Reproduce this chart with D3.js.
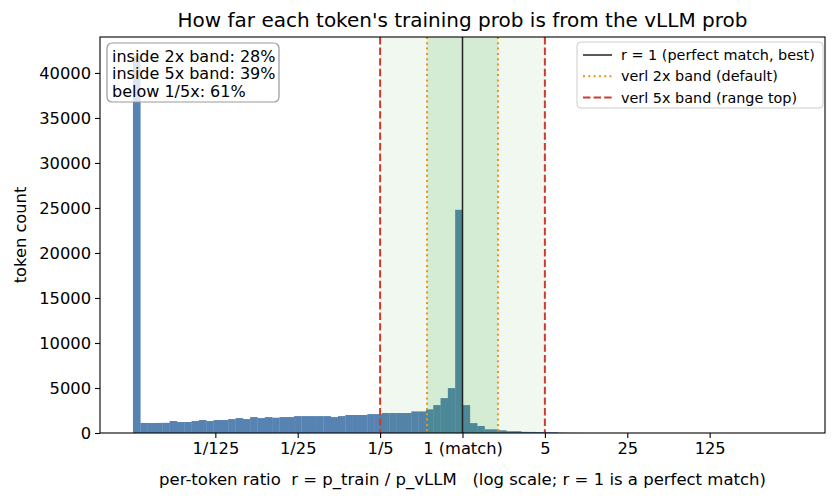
<!DOCTYPE html>
<html>
<head>
<meta charset="utf-8">
<script src="https://cdn.jsdelivr.net/npm/d3@7"></script>
<style>
  body { margin: 0; background: #fff; }
  svg { font-family: "DejaVu Sans", sans-serif; }
</style>
</head>
<body>
<svg id="chart" width="838" height="500"></svg>
<script>
// Step 1 — Data
// 90 equal-width log bins from 1/625 to 625 (ratio clipped to that range)
const binLo = 1 / 625;
const binHi = 625;
const binCounts = [
  41900, 1120, 1110, 1120, 1130, 1330, 1220, 1220, 1330, 1440,
  1330, 1440, 1440, 1550, 1660, 1550, 1770, 1660, 1770, 1700,
  1770, 1770, 1880, 1880, 1880, 1880, 1880, 1770, 1880, 2000,
  2000, 2000, 2100, 2100, 2220, 2220, 2220, 2220, 2400, 2400,
  2630, 3100, 3880, 4990, 24800, 3100, 1100, 780, 410, 410,
  300, 200, 200, 130, 120, 110, 100, 80, 30, 15,
  8, 4, 0, 0, 0, 0, 0, 0, 0, 0,
  0, 0, 0, 0, 0, 0, 0, 0, 0, 0,
  0, 0, 0, 0, 0, 0, 0, 0, 0, 0
];
const xTickValues = [1 / 125, 1 / 25, 1 / 5, 1, 5, 25, 125];
const xTickLabels = ["1/125", "1/25", "1/5", "1 (match)", "5", "25", "125"];
const yTickValues = [0, 5000, 10000, 15000, 20000, 25000, 30000, 35000, 40000];
const statLines = ["inside 2x band: 28%", "inside 5x band: 39%", "below 1/5x: 61%"];
const legendItems = [
  { label: "r = 1 (perfect match, best)", kind: "match" },
  { label: "verl 2x band (default)", kind: "band2" },
  { label: "verl 5x band (range top)", kind: "band5" }
];
const band2 = [1 / 2, 2];
const band5 = [1 / 5, 5];

// Step 2 — Dimensions and styles
const width = 838, height = 500;
const margin = { top: 37, right: 13, bottom: 67, left: 100 };
const innerWidth = width - margin.left - margin.right;
const innerHeight = height - margin.top - margin.bottom;
const barColor = "#5783b2";
const greenBand = "#2ca02c";
const redColor = "#d23a2c";
const orangeColor = "#e8951a";
const matchColor = "#222";
const tickFont = "16.3px";

const bins = binCounts.map((c, i) => ({
  x0: binLo * Math.pow(binHi / binLo, i / binCounts.length),
  x1: binLo * Math.pow(binHi / binLo, (i + 1) / binCounts.length),
  count: c
}));

// Step 3 — Scales (log axis with 5% padding like matplotlib)
const pad = Math.pow(binHi / binLo, 0.05);
const xScale = d3.scaleLog()
  .domain([binLo / pad, binHi * pad])
  .range([0, innerWidth]);
const yScale = d3.scaleLinear()
  .domain([0, d3.max(binCounts) * 1.05])
  .range([innerHeight, 0]);

const svg = d3.select("#chart");
const innerChart = svg.append("g")
  .attr("transform", `translate(${margin.left},${margin.top})`);

innerChart.append("clipPath").attr("id", "plot-clip")
  .append("rect").attr("width", innerWidth).attr("height", innerHeight);
const plot = innerChart.append("g").attr("clip-path", "url(#plot-clip)");

// Step 4 — Histogram bars
plot.selectAll("rect.bar")
  .data(bins.filter(d => d.count > 0))
  .join("rect")
    .attr("class", "bar")
    .attr("x", d => xScale(d.x0))
    .attr("width", d => xScale(d.x1) - xScale(d.x0) + 0.3)
    .attr("y", d => yScale(d.count))
    .attr("height", d => innerHeight - yScale(d.count))
    .attr("fill", barColor);

// Step 5 — Bands drawn on top (translucent green)
plot.append("rect")
  .attr("x", xScale(band5[0]))
  .attr("width", xScale(band5[1]) - xScale(band5[0]))
  .attr("y", 0).attr("height", innerHeight)
  .attr("fill", greenBand).attr("fill-opacity", 0.07);
plot.append("rect")
  .attr("x", xScale(band2[0]))
  .attr("width", xScale(band2[1]) - xScale(band2[0]))
  .attr("y", 0).attr("height", innerHeight)
  .attr("fill", greenBand).attr("fill-opacity", 0.14);

// Step 6 — Reference lines
band5.forEach(v => {
  plot.append("line")
    .attr("x1", xScale(v)).attr("x2", xScale(v))
    .attr("y1", 0).attr("y2", innerHeight)
    .attr("stroke", redColor).attr("stroke-width", 2)
    .attr("stroke-dasharray", "7.4,3.2");
});
band2.forEach(v => {
  plot.append("line")
    .attr("x1", xScale(v)).attr("x2", xScale(v))
    .attr("y1", 0).attr("y2", innerHeight)
    .attr("stroke", orangeColor).attr("stroke-width", 2)
    .attr("stroke-dasharray", "2,3.3");
});
plot.append("line")
  .attr("x1", xScale(1)).attr("x2", xScale(1))
  .attr("y1", 0).attr("y2", innerHeight)
  .attr("stroke", matchColor).attr("stroke-width", 1.5);

// Step 7 — Axes
const xAxis = innerChart.append("g")
  .attr("transform", `translate(0,${innerHeight})`)
  .call(d3.axisBottom(xScale)
    .tickValues(xTickValues)
    .tickFormat((d, i) => xTickLabels[i])
    .tickSize(5).tickPadding(4));
const yAxis = innerChart.append("g")
  .call(d3.axisLeft(yScale)
    .tickValues(yTickValues)
    .tickFormat(d3.format("d"))
    .tickSize(5).tickPadding(4));
[xAxis, yAxis].forEach(ax => {
  ax.select(".domain").remove();
  ax.attr("font-family", null).attr("font-size", null);
  ax.selectAll("text").style("font-size", tickFont).attr("fill", "#000");
  ax.selectAll("line").attr("stroke", "#000").attr("stroke-width", 1.1);
});

innerChart.append("rect")
  .attr("width", innerWidth).attr("height", innerHeight)
  .attr("fill", "none").attr("stroke", "#000").attr("stroke-width", 1.1);

// Step 8 — Labels and title
svg.append("text")
  .attr("x", margin.left + innerWidth / 2).attr("y", 27)
  .attr("text-anchor", "middle")
  .style("font-size", "20px")
  .text("How far each token's training prob is from the vLLM prob");
svg.append("text")
  .attr("x", margin.left + innerWidth / 2).attr("y", 485)
  .attr("text-anchor", "middle")
  .attr("xml:space", "preserve")
  .style("white-space", "pre")
  .style("font-size", "16.5px")
  .text("per-token ratio  r = p_train / p_vLLM   (log scale; r = 1 is a perfect match)");
svg.append("text")
  .attr("transform", `translate(26,${margin.top + innerHeight / 2}) rotate(-90)`)
  .attr("text-anchor", "middle")
  .style("font-size", "16.3px")
  .text("token count");

// Step 9 — Stats box (top left)
const statBox = innerChart.append("g").attr("transform", "translate(7,6)");
statBox.append("rect")
  .attr("width", 172).attr("height", 59)
  .attr("rx", 5).attr("ry", 5)
  .attr("fill", "#fff").attr("fill-opacity", 0.8)
  .attr("stroke", "#999").attr("stroke-width", 1.2);
statBox.selectAll("text")
  .data(statLines)
  .join("text")
    .attr("x", 5)
    .attr("y", (d, i) => 19 + i * 17.3)
    .style("font-size", "16px")
    .text(d => d);

// Step 10 — Legend (top right)
const legend = innerChart.append("g").attr("transform", `translate(${innerWidth - 248},5)`);
legend.append("rect")
  .attr("width", 246).attr("height", 66)
  .attr("rx", 4).attr("ry", 4)
  .attr("fill", "#fff").attr("fill-opacity", 0.8)
  .attr("stroke", "#ccc").attr("stroke-width", 1);
const rows = legend.selectAll("g.item")
  .data(legendItems)
  .join("g")
    .attr("class", "item")
    .attr("transform", (d, i) => `translate(0,${13 + i * 21.3})`);
rows.append("line")
  .attr("x1", 6).attr("x2", 35)
  .attr("stroke", d => d.kind === "match" ? matchColor : d.kind === "band2" ? orangeColor : redColor)
  .attr("stroke-width", d => d.kind === "match" ? 1.5 : 2)
  .attr("stroke-dasharray", d => d.kind === "band2" ? "2,3.3" : d.kind === "band5" ? "7.4,3.2" : null);
rows.append("text")
  .attr("x", 44).attr("y", 5)
  .style("font-size", "14.4px")
  .text(d => d.label);
</script>
</body>
</html>
